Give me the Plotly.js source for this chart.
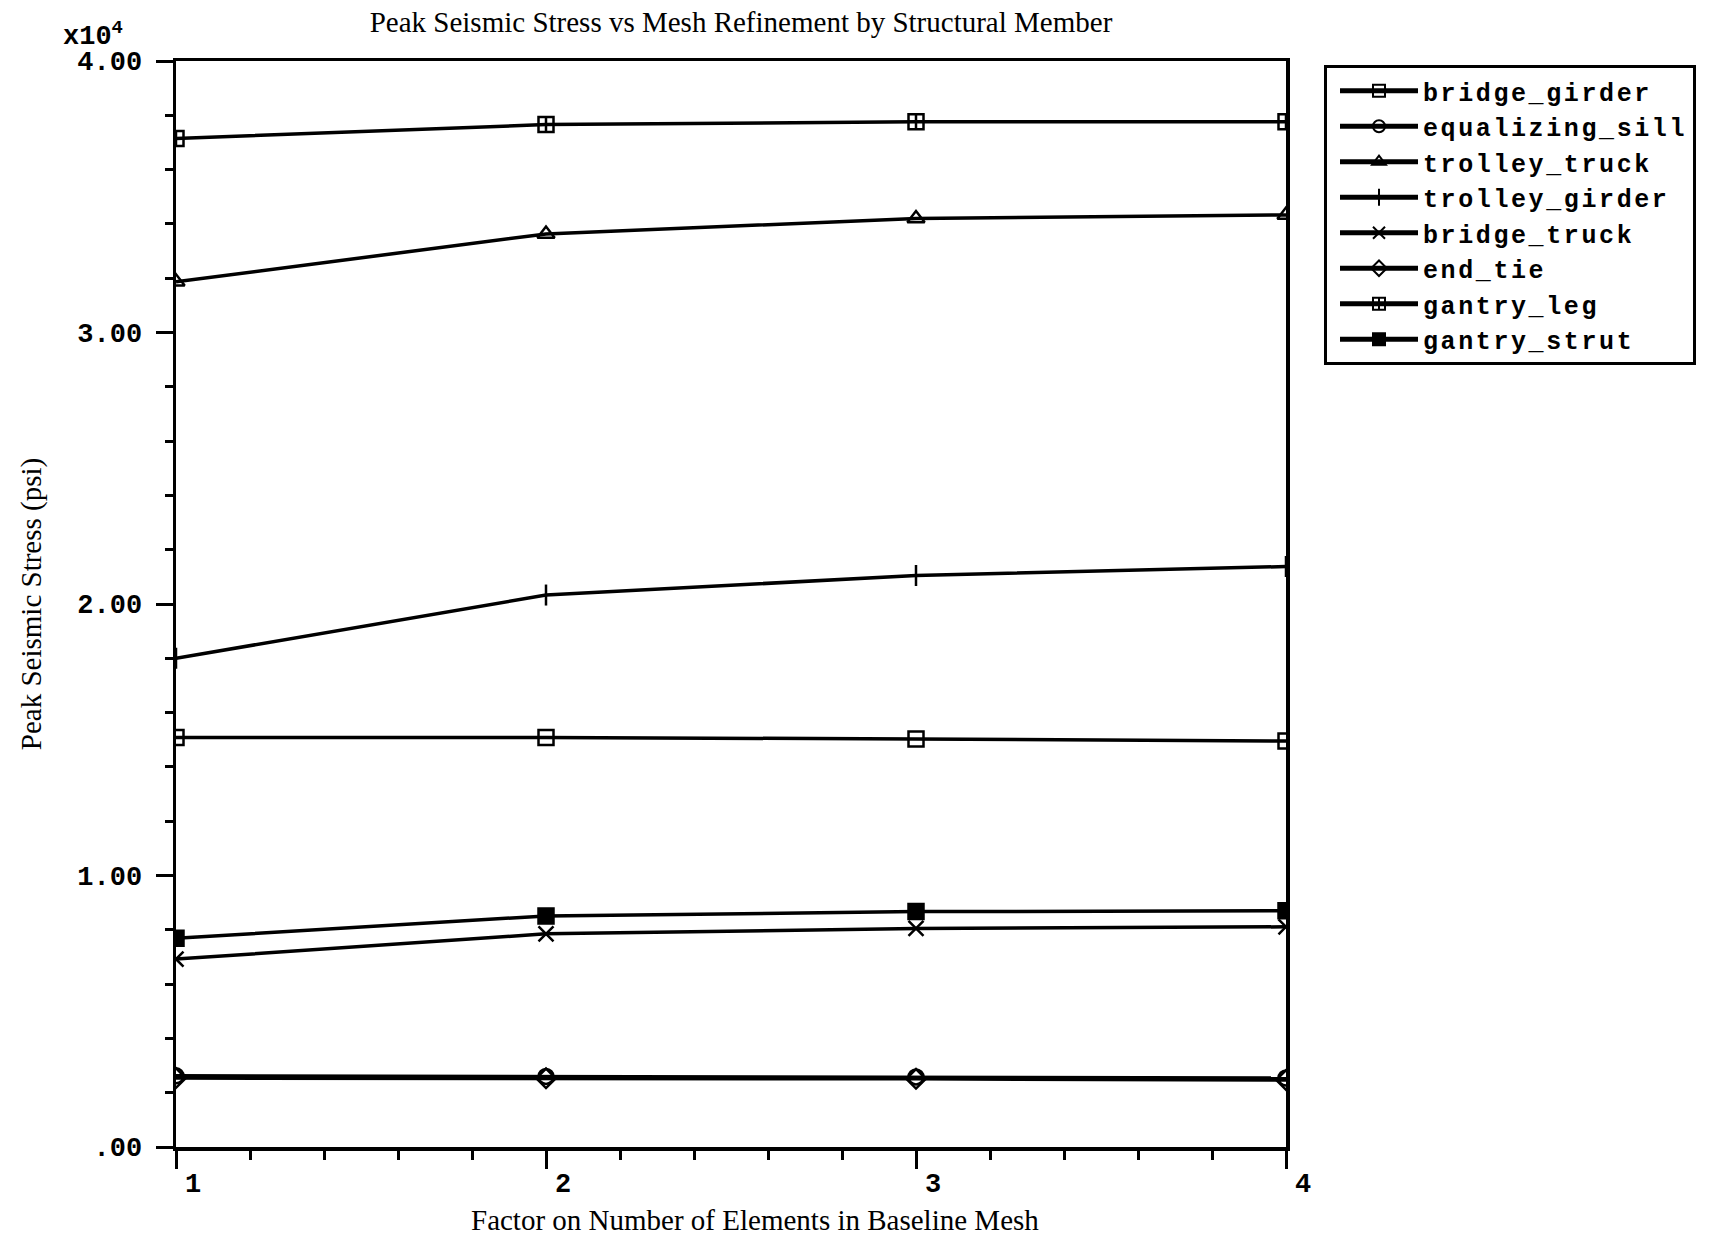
<!DOCTYPE html>
<html>
<head>
<meta charset="utf-8">
<script src="https://cdn.plot.ly/plotly-3.0.1.min.js"></script>
<style>
html,body{margin:0;padding:0;background:#fff;}
#chart{width:1712px;height:1240px;}
.legendtext{letter-spacing:2.6px;}
</style>
</head>
<body>
<div id="chart"></div>
<script>
// Data
const meshFactor = [1, 2, 3, 4];
const seriesNames = ["bridge_girder", "equalizing_sill", "trolley_truck", "trolley_girder",
                     "bridge_truck", "end_tie", "gantry_leg", "gantry_strut"];
const bridge_girder   = [15080, 15080, 15030, 14950];
const equalizing_sill = [2620, 2600, 2580, 2540];
const trolley_truck   = [31870, 33630, 34200, 34330];
const trolley_girder  = [18000, 20330, 21050, 21380];
const bridge_truck    = [6920, 7850, 8050, 8110];
const end_tie         = [2540, 2530, 2510, 2470];
const gantry_leg      = [37150, 37660, 37760, 37760];
const gantry_strut    = [7690, 8510, 8670, 8700];
const yTickVals   = [0, 10000, 20000, 30000, 40000];
const yTickLabels = [".00", "1.00", "2.00", "3.00", "4.00"];
const xTickVals   = [1, 2, 3, 4];
const xTickLabels = ["1", "2", "3", "4"];

const seriesValues = [bridge_girder, equalizing_sill, trolley_truck, trolley_girder,
                      bridge_truck, end_tie, gantry_leg, gantry_strut];
const symbols = ["square-open", "circle-open", "triangle-up-open", "line-ns-open",
                 "x-thin-open", "diamond-open", "square-cross-open", "square"];

const traces = seriesNames.map((name, i) => ({
  x: meshFactor,
  y: seriesValues[i],
  name: name,
  type: "scatter",
  mode: "lines+markers",
  line: {color: "#000", width: 3.5},
  marker: {symbol: symbols[i], size: 15, color: "#000", line: {color: "#000", width: 2.5}}
}));

const monoFont = "Liberation Mono, Courier New, monospace";
const serifFont = "Liberation Serif, Times New Roman, serif";

const layout = {
  width: 1712, height: 1240,
  paper_bgcolor: "#fff", plot_bgcolor: "#fff",
  margin: {l: 176, r: 426, t: 61, b: 93, pad: 0},
  showlegend: true,
  title: {
    text: "Peak Seismic Stress vs Mesh Refinement by Structural Member",
    font: {family: serifFont, size: 29, color: "#000"},
    x: 741 / 1712, xref: "container", xanchor: "center",
    y: 1 - 22 / 1240, yref: "container", yanchor: "middle"
  },
  xaxis: {
    range: [1, 4],
    tickvals: xTickVals, ticktext: xTickLabels,
    ticks: "outside", ticklen: 18, tickwidth: 3, tickcolor: "#000",
    ticklabelshift: 17, ticklabelstandoff: -9,
    minor: {dtick: 0.2, tick0: 1, ticks: "outside", ticklen: 9, tickwidth: 3, tickcolor: "#000", showgrid: false},
    showline: true, linecolor: "#000", linewidth: 3.5, mirror: true,
    showgrid: false, zeroline: false,
    tickfont: {family: monoFont, size: 27, color: "#000", weight: "bold"}
  },
  yaxis: {
    range: [0, 40000],
    tickvals: yTickVals, ticktext: yTickLabels,
    ticks: "outside", ticklen: 17, tickwidth: 3, tickcolor: "#000",
    ticklabelstandoff: 8,
    minor: {dtick: 2000, tick0: 0, ticks: "outside", ticklen: 8, tickwidth: 3, tickcolor: "#000", showgrid: false},
    showline: true, linecolor: "#000", linewidth: 3.5, mirror: true,
    showgrid: false, zeroline: false,
    tickfont: {family: monoFont, size: 27, color: "#000", weight: "bold"},
    title: {text: "Peak Seismic Stress (psi)",
            font: {family: serifFont, size: 29, color: "#000"}, standoff: 28}
  },
  legend: {
    x: (1324 - 176) / 1110, xanchor: "left",
    y: (1147 - 65) / 1086, yanchor: "top",
    bgcolor: "#fff", bordercolor: "#000", borderwidth: 3,
    font: {family: monoFont, size: 25, color: "#000", weight: "bold"},
    itemsizing: "constant", itemwidth: 78, indentation: 8, tracegroupgap: 0
  },
  annotations: [{
    text: "<b>x10<sup>4</sup></b>",
    xref: "paper", yref: "paper",
    x: 0, y: 1, xshift: -176 + 61, yshift: 7,
    xanchor: "left", yanchor: "bottom", showarrow: false,
    font: {family: monoFont, size: 27, color: "#000"}
  }, {
    text: "Factor on Number of Elements in Baseline Mesh",
    xref: "paper", yref: "paper",
    x: (755 - 176) / 1110, y: 0, yshift: -73,
    xanchor: "center", yanchor: "middle", showarrow: false,
    font: {family: serifFont, size: 29, color: "#000"}
  }]
};

Plotly.newPlot("chart", traces, layout, {staticPlot: true, displayModeBar: false});
</script>
</body>
</html>
